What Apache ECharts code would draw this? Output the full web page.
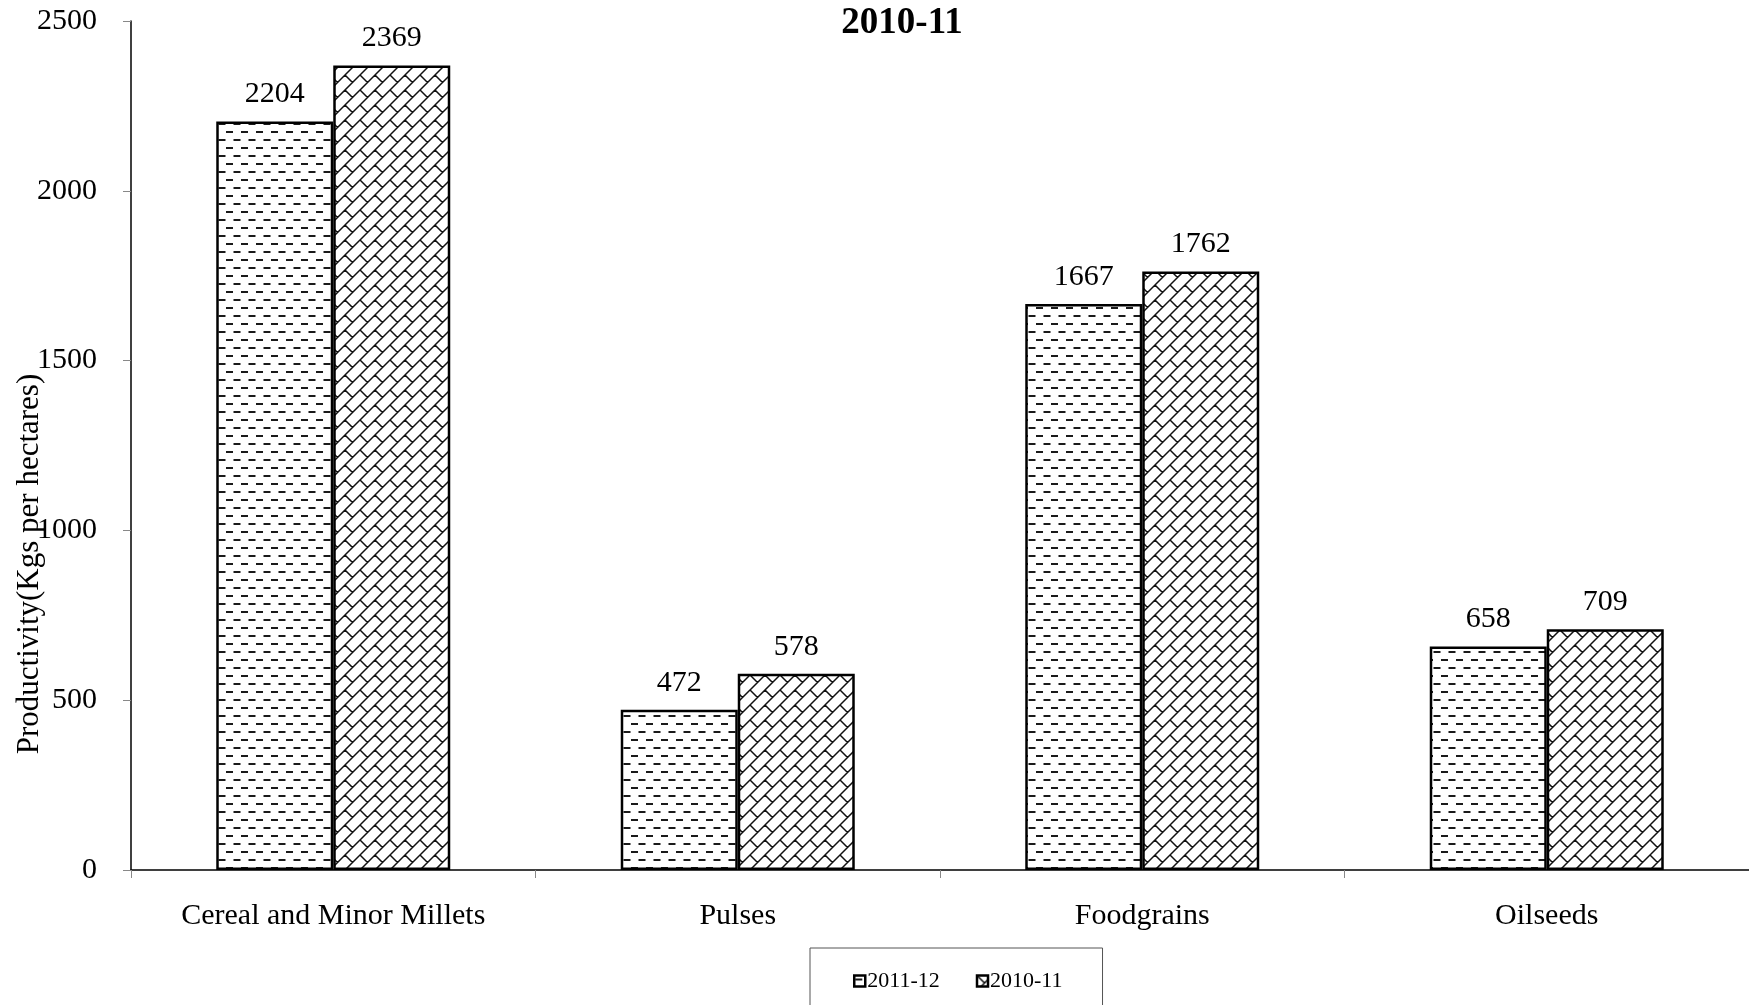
<!DOCTYPE html>
<html><head><meta charset="utf-8">
<script src="https://cdn.jsdelivr.net/npm/echarts@6/dist/echarts.min.js"></script>
<style>html,body{margin:0;padding:0;background:#fff}#c{width:1749px;height:1005px}</style>
</head><body><div id="c"></div>
<script>
const categories = ['Cereal and Minor Millets', 'Pulses', 'Foodgrains', 'Oilseeds'];
const series2011_12 = [2204, 472, 1667, 658];
const series2010_11 = [2369, 578, 1762, 709];
const seriesNames = ['2011-12', '2010-11'];
const yTicks = { min: 0, max: 2500, interval: 500 };

function dashPattern() {
  const c = document.createElement('canvas');
  c.width = 15; c.height = 16;
  const g = c.getContext('2d');
  g.fillStyle = '#fff'; g.fillRect(0, 0, 15, 16);
  g.fillStyle = '#1a1a1a';
  g.fillRect(1, 3, 7, 2);
  g.fillRect(8.5, 11, 7, 2);
  g.fillRect(-6.5, 11, 7, 2);
  return c;
}
function brickPattern() {
  const P = 15;           // spacing of continuous "/" lines (horizontal)
  const S = 2 * P;        // tile size
  const c = document.createElement('canvas');
  c.width = S; c.height = S;
  const g = c.getContext('2d');
  g.fillStyle = '#fff'; g.fillRect(0, 0, S, S);
  g.strokeStyle = '#111'; g.lineWidth = 1.5;
  g.beginPath();
  for (let k = -3 * S; k <= 4 * S; k += P) { g.moveTo(k + 2 * S, -2 * S); g.lineTo(k - 2 * S, 2 * S); }
  for (let s = -3 * S; s <= 3 * S; s += P) {
    const odd = (((s / P) % 2) + 2) % 2 === 1;
    for (let d = -3 * S; d <= 3 * S; d += S) {
      const dd = d + (odd ? P : 0);
      g.moveTo((s + dd) / 2, (s - dd) / 2);
      g.lineTo((s + P + dd) / 2, (s + P - dd) / 2);
    }
  }
  g.stroke();
  return c;
}

const chart = echarts.init(document.getElementById('c'));
const font = '"Liberation Serif", "Times New Roman", serif';
const mkSeries = (name, data, pat) => ({
  name, type: 'bar', data, barWidth: 117, barGap: '0%',
  itemStyle: { color: { image: pat, repeat: 'repeat' }, borderColor: '#000', borderWidth: 2.5 },
  label: { show: true, position: 'top', distance: 12, color: '#000', fontFamily: font, fontSize: 30 }
});
chart.setOption({
  animation: false,
  backgroundColor: '#fff',
  title: { text: '2010-11', left: 897, top: 0, textAlign: 'center',
    textStyle: { fontFamily: font, fontWeight: 'bold', fontSize: 37, color: '#000' } },
  grid: { left: 131, right: 0, top: 21, bottom: 135 },
  legend: {
    data: seriesNames, left: 810, top: 948, orient: 'horizontal', icon: 'rect',
    padding: [22, 40, 22, 43], itemGap: 36, itemWidth: 11, itemHeight: 11,
    borderColor: '#555', borderWidth: 1,
    itemStyle: { borderColor: '#000', borderWidth: 2.5 },
    textStyle: { fontFamily: font, fontSize: 22, color: '#000', padding: [0, 0, 0, -3] }
  },
  xAxis: {
    type: 'category', data: categories,
    axisLine: { lineStyle: { color: '#000', width: 1.5 } },
    axisTick: { show: true, length: 8, lineStyle: { color: '#888' } },
    axisLabel: { color: '#000', fontFamily: font, fontSize: 30, margin: 31 }
  },
  yAxis: {
    type: 'value', min: yTicks.min, max: yTicks.max, interval: yTicks.interval,
    axisLine: { show: true, lineStyle: { color: '#000', width: 1.5 } },
    axisTick: { show: true, length: 8, lineStyle: { color: '#888' } },
    splitLine: { show: false },
    axisLabel: { color: '#000', fontFamily: font, fontSize: 30, margin: 34, formatter: v => String(v) }
  },
  graphic: [{
    type: 'text', x: 30, y: 564, rotation: Math.PI / 2,
    style: { text: 'Productivity(Kgs per hectares)', fontFamily: font, fontSize: 31, fill: '#000',
      textAlign: 'center', textVerticalAlign: 'middle' }
  }],
  series: [
    mkSeries(seriesNames[0], series2011_12, dashPattern()),
    mkSeries(seriesNames[1], series2010_11, brickPattern())
  ]
});
</script></body></html>
